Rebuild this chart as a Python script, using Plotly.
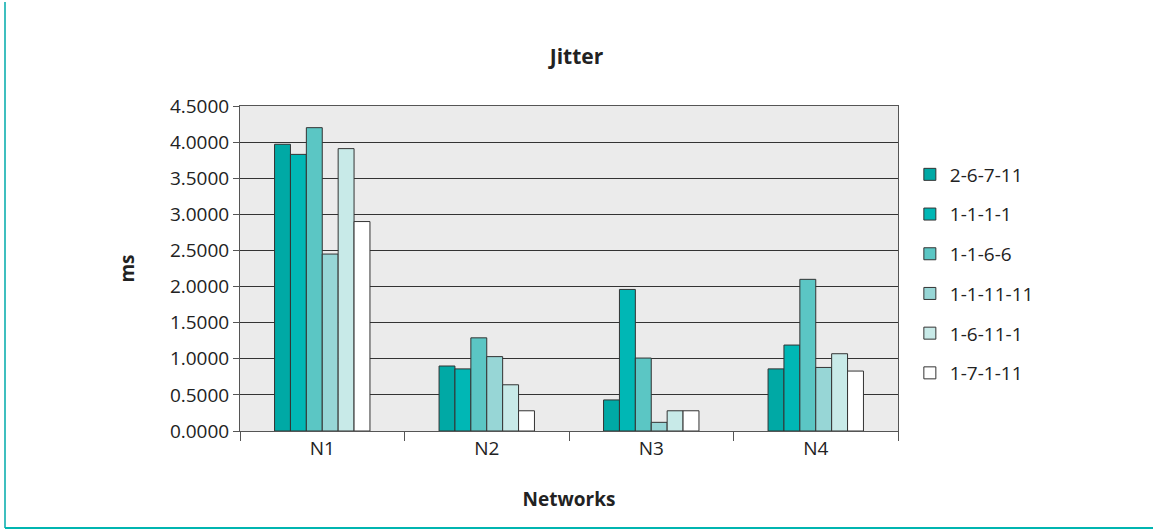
import plotly.graph_objects as go

# Jitter per network for each channel assignment
networks = ["N1", "N2", "N3", "N4"]
series_names = ["2-6-7-11", "1-1-1-1", "1-1-6-6", "1-1-11-11", "1-6-11-1", "1-7-1-11"]
jitter_2_6_7_11 = [3.97, 0.90, 0.43, 0.86]
jitter_1_1_1_1 = [3.83, 0.86, 1.96, 1.19]
jitter_1_1_6_6 = [4.20, 1.29, 1.01, 2.10]
jitter_1_1_11_11 = [2.45, 1.03, 0.12, 0.88]
jitter_1_6_11_1 = [3.91, 0.64, 0.28, 1.07]
jitter_1_7_1_11 = [2.90, 0.28, 0.28, 0.83]
y_ticks = [0, 0.5, 1.0, 1.5, 2.0, 2.5, 3.0, 3.5, 4.0, 4.5]

series_values = [jitter_2_6_7_11, jitter_1_1_1_1, jitter_1_1_6_6,
                 jitter_1_1_11_11, jitter_1_6_11_1, jitter_1_7_1_11]
colors = ["#00A9A5", "#00B7B5", "#5BC6C4", "#97D6D6", "#C8EAE8", "#FFFFFF"]

FONT = "Open Sans, DejaVu Sans, sans-serif"
TXT = "#222222"

fig = go.Figure()
for name, vals, col in zip(series_names, series_values, colors):
    fig.add_trace(go.Bar(
        x=networks, y=vals, name=name, legendgroup=name,
        marker=dict(color=col, line=dict(color="#333333", width=1)),
    ))

fig.update_layout(
    width=1153, height=530,
    margin=dict(l=240, r=255, t=106, b=99),
    paper_bgcolor="white",
    plot_bgcolor="#EBEBEB",
    barmode="group",
    bargap=0.42,
    bargroupgap=0,
    font=dict(family=FONT, size=19, color=TXT),
    title=dict(text="<b>Jitter</b>", x=0.5, xanchor="center",
               y=1 - 57 / 530, yanchor="middle",
               font=dict(family=FONT, size=21, color=TXT)),
    legend=dict(
        x=1.018, xanchor="left", y=(431 - 274) / 325, yanchor="middle",
        font=dict(family=FONT, size=19, color=TXT),
        bgcolor="rgba(0,0,0,0)",
        tracegroupgap=12,
        itemwidth=30,
    ),
    showlegend=True,
)

fig.update_xaxes(
    showgrid=False,
    showline=True, linecolor="#555555", linewidth=1, mirror=True,
    ticks="outside", ticklen=9, tickcolor="#555555", tickson="boundaries",
    tickfont=dict(family=FONT, size=19, color=TXT),
    title=dict(text="<b>Networks</b>", standoff=32,
               font=dict(family=FONT, size=19, color=TXT)),
)
fig.update_yaxes(
    range=[0, 4.5],
    tickvals=y_ticks,
    tickformat=".4f",
    showgrid=True, gridcolor="#333333", gridwidth=1,
    zeroline=False,
    showline=True, linecolor="#555555", linewidth=1, mirror=True,
    ticks="outside", ticklen=6, tickcolor="#555555",
    tickfont=dict(family=FONT, size=19, color=TXT),
    title=dict(text="<b>ms</b>", standoff=30,
               font=dict(family=FONT, size=19, color=TXT)),
)

# Frame lines on the left and bottom edges of the figure
fig.add_shape(type="line", xref="paper", yref="paper",
              x0=(5 - 240) / 658, x1=(5 - 240) / 658,
              y0=(431 - 2) / 325, y1=(431 - 528) / 325,
              line=dict(color="#3FBFBF", width=2))
fig.add_shape(type="line", xref="paper", yref="paper",
              x0=(5 - 240) / 658, x1=(1153 - 240) / 658,
              y0=(431 - 528) / 325, y1=(431 - 528) / 325,
              line=dict(color="#00B5B0", width=2))

fig.write_html("out.html")
